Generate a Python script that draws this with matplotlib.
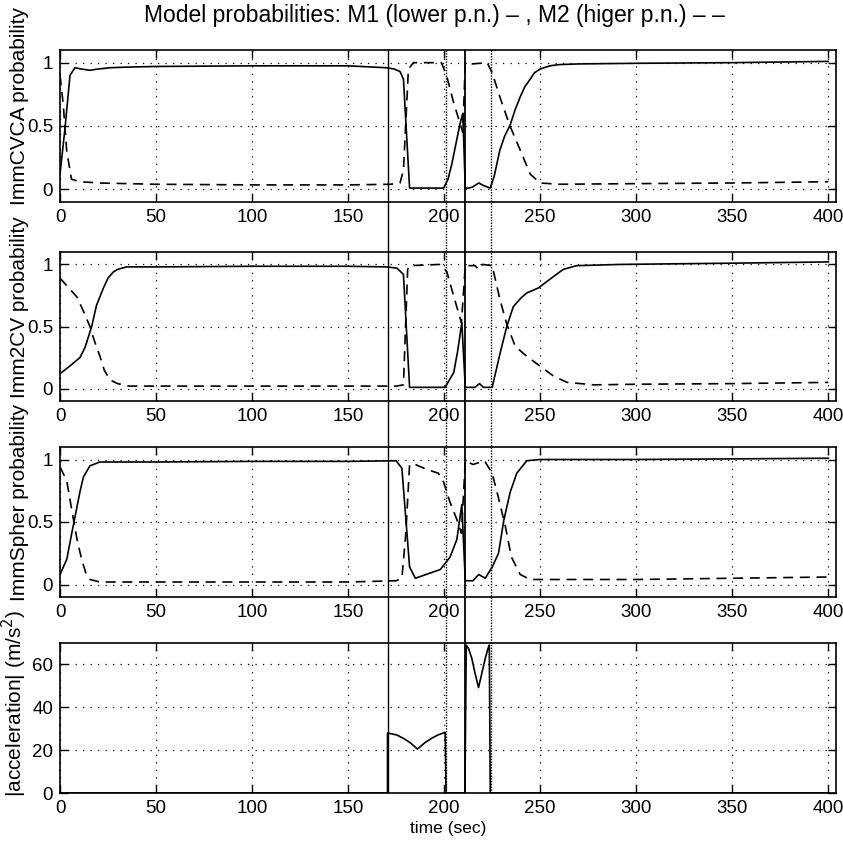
import matplotlib
matplotlib.use('Agg')
import matplotlib.pyplot as plt

plt.rcParams['font.family'] = ['Liberation Sans', 'DejaVu Sans']

# ImmCVCA model probabilities
t_cvca_m1 = [0, 2.6, 5.2, 7.8, 11, 15.6, 20, 26, 35, 50, 100, 150, 170, 174, 177, 178.8, 182, 190, 199.7,
             202, 204, 206, 208.3, 209.7, 211, 213, 215, 218, 220.5, 224, 226, 229, 231.5, 234.4, 237, 239.6,
             242, 244.8, 247, 250, 255, 260, 270, 300, 350, 400]
p_cvca_m1 = [0.12, 0.48, 0.9, 0.96, 0.95, 0.94, 0.95, 0.96, 0.965, 0.97, 0.975, 0.975, 0.96, 0.95, 0.93, 0.87,
             0.01, 0.01, 0.01, 0.08, 0.2, 0.35, 0.52, 0.6, 0.01, 0.01, 0.02, 0.05, 0.03, 0.01, 0.1, 0.31, 0.42,
             0.51, 0.63, 0.73, 0.81, 0.87, 0.92, 0.95, 0.975, 0.985, 0.99, 0.995, 1.0, 1.01]
t_cvca_m2 = [0, 1.7, 3.5, 6, 10.4, 20.8, 50, 100, 150, 172, 177, 178.8, 181.4, 184, 198.6, 201.4, 205, 208.3,
             209.7, 211, 214.6, 222.4, 225, 229, 234, 239.6, 244.8, 250, 260, 300, 350, 400]
p_cvca_m2 = [0.9, 0.67, 0.3, 0.08, 0.06, 0.05, 0.04, 0.035, 0.035, 0.04, 0.05, 0.15, 0.95, 1.0, 1.0, 0.89, 0.68,
             0.52, 0.45, 1.0, 0.99, 1.0, 0.92, 0.73, 0.51, 0.31, 0.12, 0.05, 0.04, 0.045, 0.05, 0.06]

# Imm2CV model probabilities
t_2cv_m1 = [0, 5, 10.4, 13, 16.5, 19, 22.6, 25, 27.8, 30, 34.7, 50, 100, 150, 170, 175.4, 178.8, 182, 200.5,
            205, 207, 209.2, 211, 216, 218.4, 220.4, 225, 229.2, 232.6, 236, 240, 243, 249, 255, 262, 269, 292,
            350, 400]
p_2cv_m1 = [0.12, 0.18, 0.25, 0.33, 0.5, 0.67, 0.81, 0.89, 0.94, 0.96, 0.98, 0.98, 0.985, 0.985, 0.98, 0.97,
            0.92, 0.01, 0.01, 0.13, 0.3, 0.53, 0.01, 0.01, 0.04, 0.01, 0.01, 0.29, 0.5, 0.66, 0.73, 0.77, 0.81,
            0.88, 0.96, 0.99, 1.0, 1.01, 1.02]
t_2cv_m2 = [0, 4, 8.7, 12, 15.6, 18, 20.8, 23, 26, 30, 36, 50, 100, 150, 175, 178.8, 181, 182, 198, 201.4,
            205.8, 209, 211, 216, 218, 220, 225, 229, 232.6, 237, 243, 250, 257, 264, 278, 300, 350, 400]
p_2cv_m2 = [0.89, 0.82, 0.74, 0.63, 0.5, 0.38, 0.26, 0.15, 0.07, 0.04, 0.02, 0.02, 0.02, 0.02, 0.02, 0.03,
            0.96, 0.99, 1.0, 0.94, 0.7, 0.53, 0.99, 0.99, 0.96, 1.0, 0.99, 0.72, 0.52, 0.34, 0.26, 0.18, 0.1,
            0.05, 0.03, 0.035, 0.04, 0.05]

# ImmSpher model probabilities
t_sph_m1 = [0, 3.5, 6, 8.7, 10.5, 12.2, 15.6, 20.8, 30, 50, 100, 150, 175, 178, 182, 185, 198, 203.1, 206.6,
            209.2, 211, 215, 218, 221.4, 225, 228.3, 231, 234.4, 237.8, 243, 250, 300, 400]
p_sph_m1 = [0.08, 0.2, 0.4, 0.61, 0.75, 0.86, 0.95, 0.98, 0.98, 0.98, 0.985, 0.985, 0.99, 0.93, 0.14, 0.05,
            0.12, 0.22, 0.36, 0.64, 0.03, 0.03, 0.08, 0.05, 0.14, 0.25, 0.51, 0.74, 0.89, 0.99, 1.0, 1.0, 1.01]
t_sph_m2 = [0, 3.5, 6.9, 9, 11.3, 13.5, 15.6, 20.8, 50, 100, 150, 175, 178, 180, 182, 185, 191, 197, 199.7,
            203, 206.6, 209, 211, 215, 221, 225, 228, 231.8, 235, 239.6, 244.8, 300, 400]
p_sph_m2 = [0.94, 0.83, 0.53, 0.35, 0.2, 0.09, 0.04, 0.02, 0.02, 0.02, 0.02, 0.03, 0.05, 0.4, 0.96, 0.96,
            0.92, 0.89, 0.82, 0.66, 0.52, 0.41, 0.99, 0.96, 0.99, 0.89, 0.71, 0.47, 0.22, 0.08, 0.04, 0.04, 0.06]

# true |acceleration|
t_acc = [0, 170.5, 170.5, 175.3, 178.8, 182.3, 186.1, 190, 193.4, 196.8, 200.5, 201, 210.8, 211.5, 212.7,
         214.4, 216.1, 217.9, 219.6, 221.4, 222.8, 223.5, 224, 400]
acc = [0, 0, 28, 27.1, 25.5, 23.5, 20.5, 23.5, 25.5, 27.1, 28.3, 0, 0, 69, 67.4, 62.8, 55.8, 49.2, 55.8, 62.8,
       67.4, 69, 0, 0]

# manoeuvre start/end markers
t_marks = [171, 201, 210.6, 224.3]
mark_styles = ['-', ':', '-', ':']

prob_panels = [
    ('ImmCVCA probability', t_cvca_m1, p_cvca_m1, t_cvca_m2, p_cvca_m2),
    ('Imm2CV probability', t_2cv_m1, p_2cv_m1, t_2cv_m2, p_2cv_m2),
    ('ImmSpher probability', t_sph_m1, p_sph_m1, t_sph_m2, p_sph_m2),
]

W, H = 843, 848
left, right = 60, 836
# (top, bottom) in pixels for each panel
boxes = [(50, 202), (252, 401), (447, 597), (643, 793)]

fig = plt.figure(figsize=(W / 100, H / 100), dpi=100)
grid_ls = (0, (1, 5))
ylab_x = (29 - left) / (right - left)


def make_ax(top, bottom):
    ax = fig.add_axes([left / W, 1 - bottom / H, (right - left) / W, (bottom - top) / H])
    ax.set_xlim(0, 404)
    ax.set_xticks(range(0, 401, 50))
    ax.tick_params(direction='in', top=True, right=True, length=6, labelsize=13.5, width=1, pad=5)
    ax.grid(True, color='black', linestyle=grid_ls, linewidth=0.9)
    for s in ax.spines.values():
        s.set_linewidth(1.2)
    return ax


for (ylab, t1, p1, t2, p2), (top, bottom) in zip(prob_panels, boxes[:3]):
    ax = make_ax(top, bottom)
    ax.plot(t1, p1, color='black', lw=1.2)
    ax.plot(t2, p2, color='black', lw=1.2, linestyle=(0, (6, 4)))
    ax.set_ylim(-0.1, 1.1)
    ax.set_yticks([0, 0.5, 1])
    ax.set_yticklabels(['0', '0.5', '1'])
    ax.set_ylabel(ylab, fontsize=15)
    ax.yaxis.set_label_coords(ylab_x, 0.63)

ax = make_ax(*boxes[3])
ax.plot(t_acc, acc, color='black', lw=1.2)
ax.set_ylim(0, 70)
ax.set_yticks([0, 20, 40, 60])
ax.set_ylabel('|acceleration| (m/s$^2$)', fontsize=15)
ax.yaxis.set_label_coords(ylab_x, 0.6)
ax.set_xlabel('time (sec)', fontsize=12.5, labelpad=3)

# vertical markers running through all panels
ov = fig.add_axes([left / W, 1 - boxes[3][1] / H, (right - left) / W, (boxes[3][1] - boxes[0][0]) / H])
ov.set_xlim(0, 404)
ov.set_ylim(0, 1)
ov.axis('off')
ov.patch.set_alpha(0)
for tm, ls in zip(t_marks, mark_styles):
    if ls == '-':
        ov.axvline(tm, color='black', lw=1.3 if tm > 205 else 1.0)
    else:
        ov.axvline(tm, color='black', lw=1.0, linestyle=(0, (1, 1)))

fig.text(0.516, 0.982, 'Model probabilities: M1 (lower p.n.) – , M2 (higer p.n.) – –',
         ha='center', va='center', fontsize=16.5)

fig.savefig('out.png', dpi=100)
